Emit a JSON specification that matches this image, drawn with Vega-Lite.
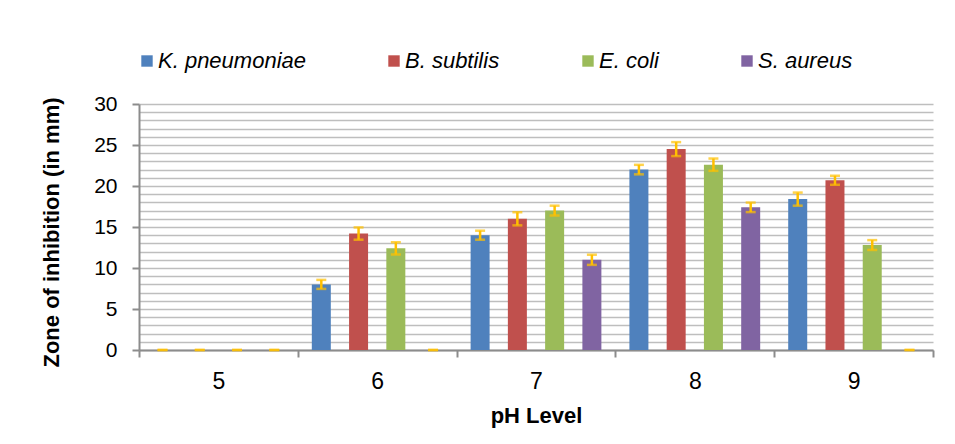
{
  "$schema": "https://vega.github.io/schema/vega-lite/v6.json",
  "width": 794,
  "height": 246,
  "autosize": {"type": "none"},
  "padding": {"left": 139, "top": 104, "right": 22, "bottom": 94},
  "background": "white",
  "config": {
    "view": {"stroke": null},
    "font": "Liberation Sans"
  },
  "data": {
    "values": [
      {"pH": "5", "species": "K. pneumoniae", "value": 0, "low": 0, "high": 0},
      {"pH": "5", "species": "B. subtilis", "value": 0, "low": 0, "high": 0},
      {"pH": "5", "species": "E. coli", "value": 0, "low": 0, "high": 0},
      {"pH": "5", "species": "S. aureus", "value": 0, "low": 0, "high": 0},
      {"pH": "6", "species": "K. pneumoniae", "value": 8.0, "low": 7.45, "high": 8.55},
      {"pH": "6", "species": "B. subtilis", "value": 14.2, "low": 13.45, "high": 14.95},
      {"pH": "6", "species": "E. coli", "value": 12.4, "low": 11.65, "high": 13.15},
      {"pH": "6", "species": "S. aureus", "value": 0, "low": 0, "high": 0},
      {"pH": "7", "species": "K. pneumoniae", "value": 14.0, "low": 13.45, "high": 14.55},
      {"pH": "7", "species": "B. subtilis", "value": 16.0, "low": 15.2, "high": 16.8},
      {"pH": "7", "species": "E. coli", "value": 17.0, "low": 16.4, "high": 17.6},
      {"pH": "7", "species": "S. aureus", "value": 11.0, "low": 10.38, "high": 11.62},
      {"pH": "8", "species": "K. pneumoniae", "value": 22.0, "low": 21.42, "high": 22.58},
      {"pH": "8", "species": "B. subtilis", "value": 24.5, "low": 23.65, "high": 25.35},
      {"pH": "8", "species": "E. coli", "value": 22.6, "low": 21.85, "high": 23.35},
      {"pH": "8", "species": "S. aureus", "value": 17.4, "low": 16.82, "high": 17.98},
      {"pH": "9", "species": "K. pneumoniae", "value": 18.4, "low": 17.6, "high": 19.2},
      {"pH": "9", "species": "B. subtilis", "value": 20.7, "low": 20.15, "high": 21.25},
      {"pH": "9", "species": "E. coli", "value": 12.8, "low": 12.2, "high": 13.4},
      {"pH": "9", "species": "S. aureus", "value": 0, "low": 0, "high": 0}
    ]
  },
  "encoding": {
    "x": {
      "field": "pH",
      "type": "nominal",
      "scale": {"paddingInner": 0, "paddingOuter": 0},
      "axis": {
        "title": "pH Level",
        "labelAngle": 0,
        "labelFontSize": 23,
        "labelColor": "#000000",
        "labelBaseline": "alphabetic",
        "labelPadding": 31,
        "tickBand": "extent",
        "tickSize": 7,
        "tickColor": "#8C8C8C",
        "tickWidth": 2,
        "domainColor": "#8C8C8C",
        "domainWidth": 2,
        "titleFontSize": 22,
        "titleFontWeight": "bold",
        "titleColor": "#000000",
        "titleBaseline": "alphabetic",
        "titleY": 72
      }
    },
    "xOffset": {
      "field": "species",
      "type": "nominal",
      "sort": ["K. pneumoniae", "B. subtilis", "E. coli", "S. aureus"],
      "scale": {"paddingInner": 0.49, "paddingOuter": 0.376}
    }
  },
  "resolve": {"axis": {"y": "independent"}},
  "layer": [
    {
      "mark": {"type": "bar"},
      "encoding": {
        "y": {
          "field": "value",
          "type": "quantitative",
          "scale": {"domain": [0, 30], "nice": false},
          "axis": {
            "title": "Zone of inhibition (in mm)",
            "values": [0,1,2,3,4,5,6,7,8,9,10,11,12,13,14,15,16,17,18,19,20,21,22,23,24,25,26,27,28,29,30],
            "labelExpr": "datum.value % 5 === 0 ? datum.label : ''",
            "labelOverlap": false,
            "labelFontSize": 21,
            "labelColor": "#000000",
            "labelPadding": 15,
            "tickSize": 7,
            "tickColor": "#8C8C8C",
            "tickWidth": 2,
            "tickOpacity": {"expr": "datum.value % 5 === 0 ? 1 : 0"},
            "domainColor": "#8C8C8C",
            "domainWidth": 2,
            "grid": true,
            "gridColor": "#BEBEBE",
            "gridWidth": 1.4,
            "titleFontSize": 22,
            "titleFontWeight": "bold",
            "titleColor": "#000000",
            "titleAngle": -90,
            "titleBaseline": "middle",
            "titleX": -88,
            "titleY": 128
          }
        },
        "color": {
          "field": "species",
          "type": "nominal",
          "sort": ["K. pneumoniae", "B. subtilis", "E. coli", "S. aureus"],
          "scale": {
            "domain": ["K. pneumoniae", "B. subtilis", "E. coli", "S. aureus"],
            "range": ["#4F81BD", "#C0504D", "#9BBB59", "#8064A2"]
          },
          "legend": {
            "title": null,
            "orient": "none",
            "direction": "horizontal",
            "columns": 4,
            "legendX": -3,
            "legendY": -54,
            "padding": 0,
            "symbolType": "square",
            "symbolSize": 130,
            "symbolStrokeWidth": 0,
            "symbolOffset": 0,
            "labelOffset": 0,
            "labelFontSize": 22,
            "labelFontStyle": "italic",
            "labelColor": "#000000",
            "labelLimit": 400,
            "columnPadding": 77
          }
        }
      }
    },
    {
      "mark": {"type": "rule", "color": "#FFC000", "strokeWidth": 2.5},
      "encoding": {
        "y": {"field": "low", "type": "quantitative", "axis": null},
        "y2": {"field": "high"}
      }
    },
    {
      "mark": {"type": "tick", "color": "#FFC000", "size": 10, "thickness": 2.5},
      "encoding": {
        "y": {"field": "low", "type": "quantitative", "axis": null}
      }
    },
    {
      "mark": {"type": "tick", "color": "#FFC000", "size": 10, "thickness": 2.5},
      "encoding": {
        "y": {"field": "high", "type": "quantitative", "axis": null}
      }
    }
  ]
}
